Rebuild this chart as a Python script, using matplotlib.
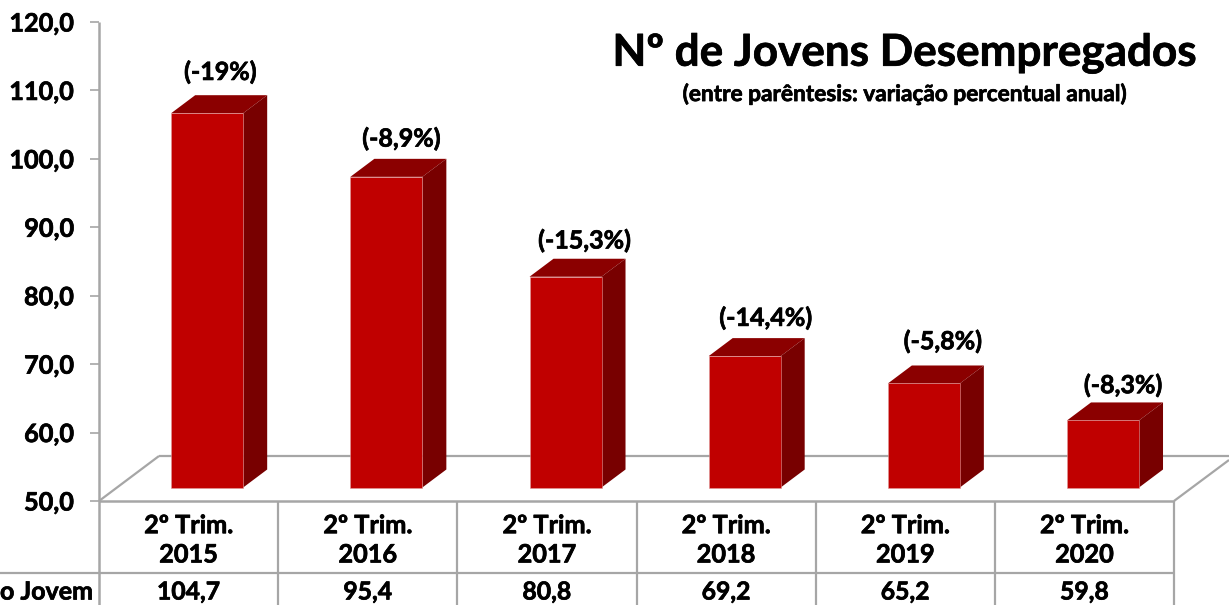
import matplotlib
matplotlib.use("Agg")
import matplotlib.pyplot as plt
import matplotlib.patheffects as pe
from matplotlib.patches import Polygon
from matplotlib.lines import Line2D
from matplotlib.text import Text
from matplotlib.transforms import Affine2D, blended_transform_factory

categories = ["2º Trim.\n2015", "2º Trim.\n2016", "2º Trim.\n2017", "2º Trim.\n2018", "2º Trim.\n2019", "2º Trim.\n2020"]
values = [104.7, 95.4, 80.8, 69.2, 65.2, 59.8]
value_labels = ["104,7", "95,4", "80,8", "69,2", "65,2", "59,8"]
changes = ["(-19%)", "(-8,9%)", "(-15,3%)", "(-14,4%)", "(-5,8%)", "(-8,3%)"]
yticks = [50, 60, 70, 80, 90, 100, 110, 120]
ytick_labels = ["50,0", "60,0", "70,0", "80,0", "90,0", "100,0", "110,0", "120,0"]
row_label = "o Jovem"
title = "Nº de Jovens Desempregados"
subtitle = "(entre parêntesis: variação percentual anual)"

# label placement relative to each bar (pixels)
label_dx = [13, 15, 19, 21, 19, 20]
label_dy = [41, 38, 36, 38, 42, 35]

W, H = 1229, 605
plt.rcParams["font.family"] = ["Lato", "DejaVu Sans"]
plt.rcParams["font.weight"] = "bold"
fig = plt.figure(figsize=(W / 100, H / 100), dpi=100)
L, R, T, B = 99, 1174, 22, 501
ax = fig.add_axes([L / W, (H - B) / H, (R - L) / W, (B - T) / H])
ax.patch.set_visible(False)
ax.set_xlim(0, 6)
ax.set_ylim(50, 120)
px = Affine2D().scale(1 / W, -1 / H).translate(0, 1) + fig.transFigure
GREY = "#a6a6a6"
for s in ["top", "right", "bottom", "left"]:
    ax.spines[s].set_visible(False)

def seg(xs, ys, c=GREY, lw=1.6):
    fig.add_artist(Line2D(xs, ys, transform=px, color=c, lw=lw, solid_capstyle="butt", zorder=-1))

# axis, floor and table rules
seg([L, L], [T, H], lw=1.8)
seg([L, R], [B, B], lw=1.8)
seg([L, 159], [B, 456])
seg([159, W], [456, 456])
seg([R, W], [B, 460])
seg([0, R], [573, 573])
for i in range(1, 7):
    x = L + (R - L) * i / 6
    seg([x, x], [B, H], lw=1.6)

# 3-D bars
unit_x = 6 / (R - L)
unit_y = 70 / (B - T)
bar_w = 72 * unit_x
bar_off = 18.6 * unit_x
dx = 24 * unit_x
dy = 18 * unit_y
base = 50 + 13.5 * unit_y
FRONT, TOP, SIDE = "#c00000", "#8b0000", "#780000"
pos = [i + 0.5 + bar_off for i in range(len(values))]
ax.bar(pos, [v - 50 for v in values], bottom=base, width=bar_w, color=FRONT,
       edgecolor="#e09a9a", linewidth=0.4, zorder=5)
for x, v in zip(pos, values):
    l, r = x - bar_w / 2, x + bar_w / 2
    ytop = base + (v - 50)
    ax.add_patch(Polygon([(l, ytop), (r, ytop), (r + dx, ytop + dy), (l + dx, ytop + dy)],
                         closed=True, fc=TOP, ec="none", zorder=4, clip_on=False))
    ax.add_patch(Polygon([(r, base), (r, ytop), (r + dx, ytop + dy), (r + dx, base + dy)],
                         closed=True, fc=SIDE, ec="none", zorder=4, clip_on=False))

for x, v, t, ldx, ldy in zip(pos, values, changes, label_dx, label_dy):
    ax.annotate(t, xy=(x, base + v - 50), xytext=(ldx * 0.72, ldy * 0.72),
                textcoords="offset points", ha="center", va="center",
                fontsize=18, fontweight="bold", color="black", zorder=6)

# y axis
ax.set_yticks(yticks, ytick_labels)
ax.tick_params(axis="y", length=6.5, width=1.2, color=GREY, labelsize=18.2, pad=11.5, labelcolor="black")
for lab in ax.get_yticklabels():
    lab.set_fontweight("bold")

# x labels and value row
ax.set_xticks([i + 0.5 for i in range(6)], categories)
ax.tick_params(axis="x", length=0, pad=9.5, labelsize=18.2)
for lab in ax.get_xticklabels():
    lab.set_fontweight("bold")
    lab.set_linespacing(1.33)

cell = blended_transform_factory(ax.transData, px)
for i, t in enumerate(value_labels):
    ax.text(i + 0.5, 592, t, transform=cell, ha="center", va="center",
            fontsize=17.8, fontweight="bold", clip_on=False)
fig.text(93 / W, 1 - 592 / H, row_label, ha="right", va="center", fontsize=18, fontweight="bold")

fig.text(904 / W, 1 - 53 / H, title, ha="center", va="center", fontsize=31.7, fontweight="bold")
fig.text(904.5 / W, 1 - 94 / H, subtitle, ha="center", va="center", fontsize=16.3, fontweight="bold")

for t in fig.findobj(Text):
    t.set_path_effects([pe.withStroke(linewidth=0.5, foreground="black")])

fig.savefig("out.png", dpi=100)
